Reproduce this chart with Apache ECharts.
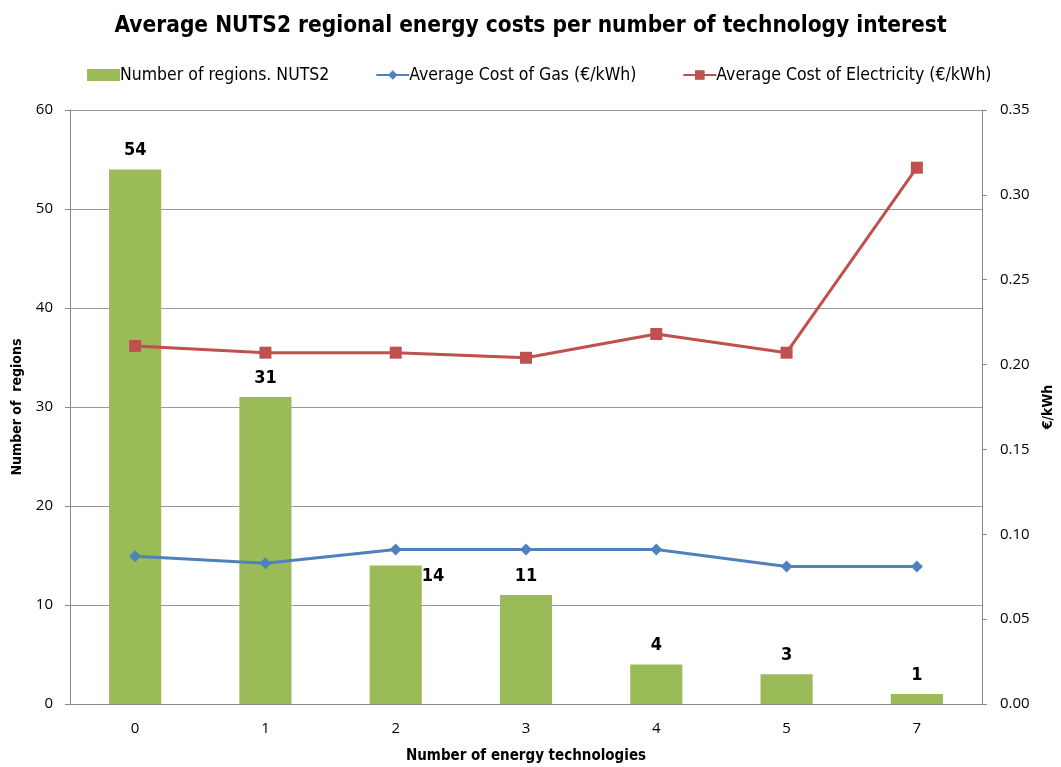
<!DOCTYPE html>
<html>
<head>
<meta charset="utf-8">
<script src="https://cdn.jsdelivr.net/npm/echarts@6/dist/echarts.min.js"></script>
<style>
  html, body { margin: 0; padding: 0; background: #fff; }
  #chart { width: 1061px; height: 767px; }
</style>
</head>
<body>
<div id="chart"></div>
<script>
// categories = number of energy technologies
const categories = ['0', '1', '2', '3', '4', '5', '7']
const regionCounts = [54, 31, 14, 11, 4, 3, 1]
const gasCost = [0.087, 0.083, 0.091, 0.091, 0.091, 0.081, 0.081]
const electricityCost = [0.211, 0.207, 0.207, 0.204, 0.218, 0.207, 0.316]

const condensed = '"DejaVu Sans Condensed", "DejaVu Sans", sans-serif'
const plain = '"Open Sans", "Noto Sans", sans-serif'

const chart = echarts.init(document.getElementById('chart'))

// the "14" label sits to the right of its bar in the original
const barData = regionCounts.map((v, i) => {
  if (i === 2) {
    return { value: v, label: { position: ['100%', 2], align: 'left', verticalAlign: 'top' } }
  }
  return v
})

const option = {
  animation: false,
  title: {
    text: 'Average NUTS2 regional energy costs per number of technology interest',
    left: 'center',
    top: 10,
    textStyle: { fontFamily: condensed, fontWeight: 'bold', fontSize: 22.5, color: '#000' }
  },
  legend: {
    top: 61,
    left: 82,
    itemWidth: 33,
    itemHeight: 12,
    itemGap: 46,
    textStyle: { fontFamily: condensed, fontSize: 17.5, color: '#000', padding: [0, 0, 0, -5] },
    data: [
      { name: 'Number of regions. NUTS2', icon: 'rect' },
      { name: 'Average Cost of Gas (€/kWh)' },
      { name: 'Average Cost of Electricity (€/kWh)' }
    ]
  },
  grid: { left: 70, right: 79, top: 110, bottom: 63, containLabel: false, outerBoundsMode: 'none' },
  xAxis: {
    type: 'category',
    data: categories,
    name: 'Number of energy technologies',
    nameLocation: 'middle',
    nameGap: 45,
    nameTextStyle: { fontFamily: condensed, fontWeight: 'bold', fontSize: 15, color: '#000' },
    axisLine: { lineStyle: { color: '#888' } },
    axisTick: { alignWithLabel: false, length: 6, lineStyle: { color: '#888' } },
    axisLabel: { fontFamily: plain, fontSize: 15, color: '#000', margin: 17 }
  },
  yAxis: [
    {
      type: 'value',
      min: 0,
      max: 60,
      interval: 10,
      name: 'Number of  regions',
      nameLocation: 'middle',
      nameGap: 46,
      nameTextStyle: { fontFamily: condensed, fontWeight: 'bold', fontSize: 14, color: '#000' },
      axisLine: { show: true, lineStyle: { color: '#888' } },
      axisTick: { show: true, length: 5, lineStyle: { color: '#888' } },
      axisLabel: { fontFamily: plain, fontSize: 15, color: '#000', margin: 17 },
      splitLine: { lineStyle: { color: '#999', width: 1 } }
    },
    {
      type: 'value',
      min: 0,
      max: 0.35,
      interval: 0.05,
      name: '€/kWh',
      nameLocation: 'middle',
      nameGap: 59,
      nameTextStyle: { fontFamily: condensed, fontWeight: 'bold', fontSize: 14, color: '#000' },
      axisLine: { show: true, lineStyle: { color: '#888' } },
      axisTick: { show: true, length: 5, lineStyle: { color: '#888' } },
      axisLabel: {
        fontFamily: plain, fontSize: 15, color: '#000', margin: 18,
        formatter: v => v.toFixed(2)
      },
      splitLine: { show: false }
    }
  ],
  series: [
    {
      name: 'Number of regions. NUTS2',
      type: 'bar',
      yAxisIndex: 0,
      data: barData,
      barWidth: '40%',
      itemStyle: { color: '#9BBB59' },
      label: {
        show: true,
        position: 'top',
        distance: 10,
        fontFamily: condensed,
        fontWeight: 'bold',
        fontSize: 18,
        color: '#000'
      }
    },
    {
      name: 'Average Cost of Gas (€/kWh)',
      type: 'line',
      yAxisIndex: 1,
      data: gasCost,
      symbol: 'diamond',
      symbolSize: 12,
      lineStyle: { width: 3, color: '#4F81BD' },
      itemStyle: { color: '#4F81BD' }
    },
    {
      name: 'Average Cost of Electricity (€/kWh)',
      type: 'line',
      yAxisIndex: 1,
      data: electricityCost,
      symbol: 'rect',
      symbolSize: 12,
      lineStyle: { width: 3, color: '#C0504D' },
      itemStyle: { color: '#C0504D' }
    }
  ]
}

chart.setOption(option)
</script>
</body>
</html>
